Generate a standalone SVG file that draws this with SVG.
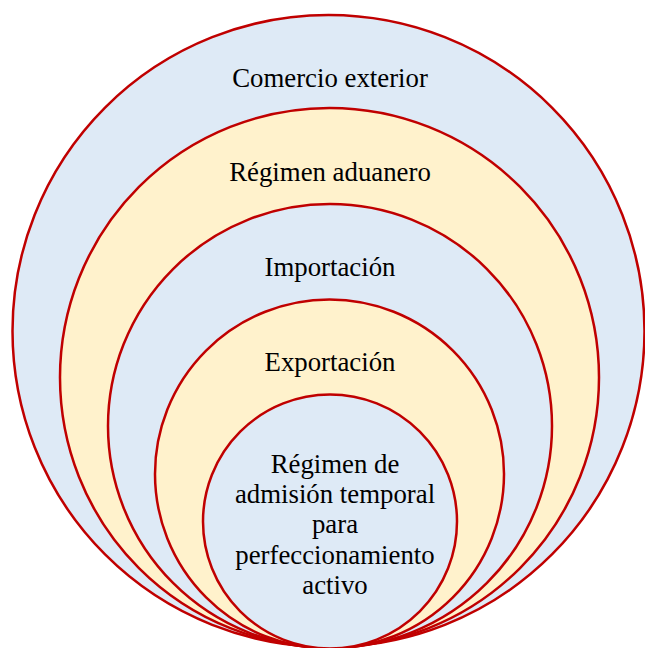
<svg xmlns="http://www.w3.org/2000/svg" width="645" height="648" viewBox="0 0 645 648">
<style>
.c{stroke:#C00000;stroke-width:2.5}
.b{fill:#DEEAF6}
.y{fill:#FFF2CC}
text{font-family:"Liberation Serif","Times New Roman",serif;font-size:26.8px;fill:#000;text-anchor:middle}
</style>
<rect width="645" height="648" fill="#fff"/>
<g id="comercio-exterior">
<circle class="c b" cx="328.5" cy="331" r="316"/>
<text x="330" y="87">Comercio exterior</text>
</g>
<g id="regimen-aduanero">
<circle class="c y" cx="329.5" cy="377.5" r="269.5"/>
<text x="330" y="181">Régimen aduanero</text>
</g>
<g id="importacion">
<circle class="c b" cx="330" cy="426" r="222"/>
<text x="330" y="276">Importación</text>
</g>
<g id="exportacion">
<circle class="c y" cx="329.5" cy="474" r="174.5"/>
<text x="330" y="371">Exportación</text>
</g>
<g id="regimen-admision">
<circle class="c b" cx="330" cy="521.5" r="127"/>
<text x="335" y="473">Régimen de</text>
<text x="335" y="503">admisión temporal</text>
<text x="335" y="533">para</text>
<text x="335" y="564">perfeccionamiento</text>
<text x="335" y="594">activo</text>
</g>
</svg>
